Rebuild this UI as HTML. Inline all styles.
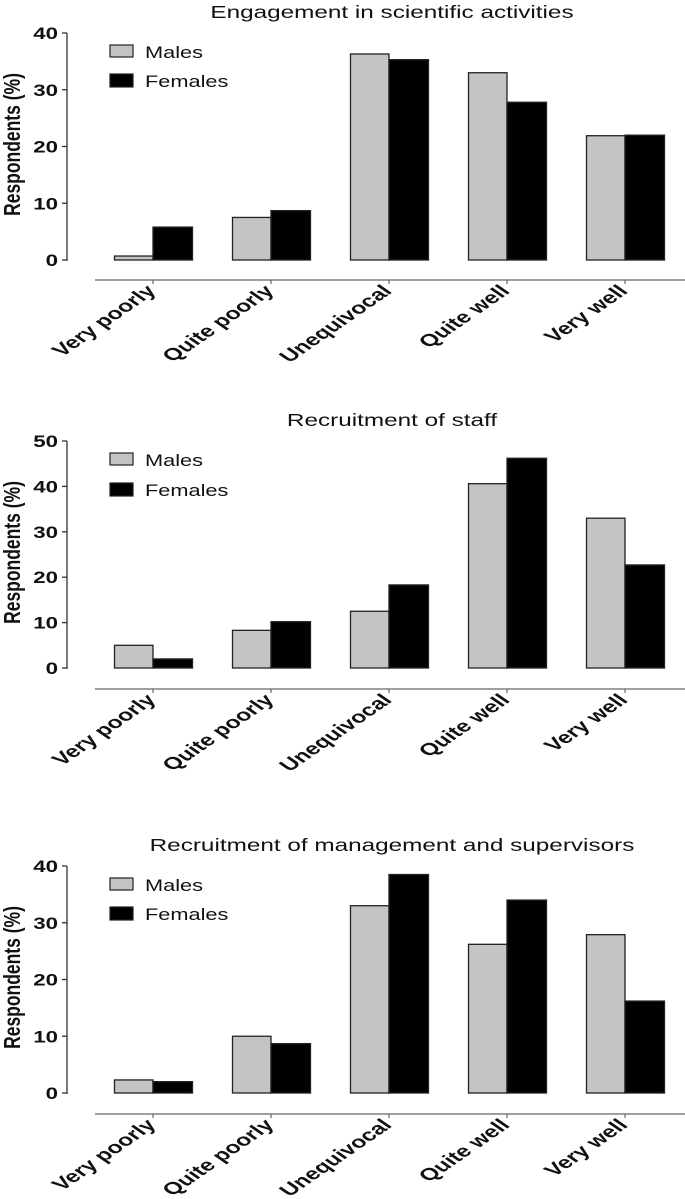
<!DOCTYPE html>
<html><head><meta charset="utf-8"><style>
html,body{margin:0;padding:0;background:#fff;}
svg{display:block;font-family:"Liberation Sans",Arial,sans-serif;}
</style></head><body>
<svg id="chart" width="685" height="1199" viewBox="0 0 685 1199" xmlns="http://www.w3.org/2000/svg"></svg>
<script>
const categories = ["Very poorly","Quite poorly","Unequivocal","Quite well","Very well"];
const titles = ["Engagement in scientific activities","Recruitment of staff","Recruitment of management and supervisors"];
const males1 = [0.7, 7.5, 36.3, 33.0, 21.9];
const females1 = [5.8, 8.7, 35.3, 27.8, 22.0];
const males2 = [5.0, 8.3, 12.5, 40.6, 33.0];
const females2 = [2.0, 10.2, 18.3, 46.2, 22.7];
const males3 = [2.3, 10.0, 33.0, 26.2, 27.9];
const females3 = [2.0, 8.7, 38.5, 34.0, 16.2];
const ticks1 = [0,10,20,30,40];
const ticks2 = [0,10,20,30,40,50];
const ticks3 = [0,10,20,30,40];

const NS = "http://www.w3.org/2000/svg";
const svg = document.getElementById('chart');
function mk(tag, attrs, parent, text){
  const e = document.createElementNS(NS, tag);
  for (const k in attrs) e.setAttribute(k, attrs[k]);
  if (text !== undefined) e.textContent = text;
  parent.appendChild(e);
  return e;
}
const panels = [
  {title:titles[0], m:males1, f:females1, ticks:ticks1, titleY:18, top:33, zero:260, axisY:280, leg1:45, leg2:74},
  {title:titles[1], m:males2, f:females2, ticks:ticks2, titleY:426, top:441, zero:668, axisY:689, leg1:453, leg2:483},
  {title:titles[2], m:males3, f:females3, ticks:ticks3, titleY:851, top:866, zero:1093, axisY:1114, leg1:878, leg2:907}
];
const axisX = 67, firstC = 153, step = 118, bw = 38.5;
panels.forEach((p, pi) => {
  const g = mk('g', {}, svg);
  
  
  const maxV = p.ticks[p.ticks.length-1];
  const y = v => p.zero - (v / maxV) * (p.zero - p.top);
  const xc = i => firstC + i * step;
  const t = mk('text', {x:0, y:0, transform:`translate(392,${p.titleY}) scale(1.35,1)`, 'text-anchor':'middle', 'font-size':18, fill:'#111'}, g, p.title);
  
  
  const ya = mk('line', {x1:axisX, y1:y(maxV), x2:axisX, y2:p.zero + 1, stroke:'#333', 'stroke-width':1.3}, g);
  
  
  p.ticks.forEach(tv => {
    mk('line', {x1:axisX-5, y1:y(tv), x2:axisX, y2:y(tv), stroke:'#333', 'stroke-width':1.3}, g);
    const tl = mk('text', {x:0, y:0, transform:`translate(58,${y(tv)+6}) scale(1.35,1)`, 'text-anchor':'end', 'font-size':16.5, 'font-weight':'bold', fill:'#111'}, g, String(tv));
    
    
  });
  const midY = (p.top + p.zero) / 2 - 2;
  const yt = mk('text', {x:0, y:0, transform:`translate(20,${midY}) rotate(-90) scale(1,1.3)`, 'text-anchor':'middle', 'font-size':17.5, 'font-weight':'bold', fill:'#111'}, g, 'Respondents (%)');
  
  
  const xa = mk('line', {x1:95, y1:p.axisY, x2:685, y2:p.axisY, stroke:'#666', 'stroke-width':1.3}, g);
  
  
  categories.forEach((c, i) => {
    const cx = xc(i);
    mk('line', {x1:cx, y1:p.axisY, x2:cx, y2:p.axisY+4, stroke:'#666', 'stroke-width':1.2}, g);
    const cl = mk('text', {x:0, y:0, transform:`translate(${cx+4},${p.axisY+12}) scale(1.45,1) rotate(-45)`, 'text-anchor':'end', 'font-size':17, 'font-weight':'bold', fill:'#111'}, g, c);
    
    
    const mb = mk('rect', {x:cx-bw, y:y(p.m[i]), width:bw, height:p.zero - y(p.m[i]), fill:'#c4c4c4', stroke:'#222', 'stroke-width':1.3}, g);
    
    
    const fb = mk('rect', {x:cx, y:y(p.f[i]), width:bw+1, height:p.zero - y(p.f[i]), fill:'#000', stroke:'#222', 'stroke-width':1.3}, g);
    
    
  });
  const l1 = mk('rect', {x:110, y:p.leg1, width:23, height:12, fill:'#c4c4c4', stroke:'#222', 'stroke-width':1.2}, g);
  
  
  const lt1 = mk('text', {x:0, y:0, transform:`translate(145,${p.leg1+13}) scale(1.28,1)`, 'font-size':17, fill:'#111'}, g, 'Males');
  
  
  const l2 = mk('rect', {x:110, y:p.leg2, width:23, height:13, fill:'#000', stroke:'#222', 'stroke-width':1.2}, g);
  
  
  const lt2 = mk('text', {x:0, y:0, transform:`translate(145,${p.leg2+13}) scale(1.28,1)`, 'font-size':17, fill:'#111'}, g, 'Females');
  
  
});
</script>
</body></html>
